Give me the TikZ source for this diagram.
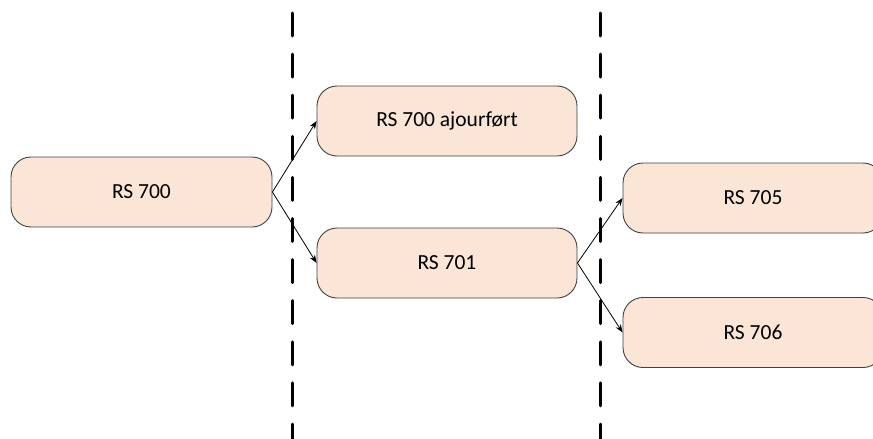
\documentclass[tikz,border=0pt]{standalone}
\usepackage{fontspec}
\setmainfont{Carlito}
\usetikzlibrary{arrows.meta}
\definecolor{boxfill}{HTML}{FBE5D6}
\definecolor{boxline}{HTML}{404040}
\tikzset{
  box/.style={draw=boxline, line width=0.9pt, fill=boxfill, rounded corners=20pt,
    minimum height=70pt, minimum width=260pt, inner sep=0pt, font=\fontsize{21.5}{24}\selectfont},
  conn/.style={line width=0.8pt, -{Stealth[length=8pt,width=6pt]}},
  divider/.style={line width=3pt, line cap=round, dash pattern=on 23pt off 18.1pt}
}
\begin{document}
\begin{tikzpicture}[x=1pt,y=-1pt]
\clip (0,0) rectangle (873,439);
\useasboundingbox (0,0) rectangle (873,439);
\coordinate (d1t) at (292,13);
\coordinate (d1b) at (292,445);
\coordinate (d2t) at (600,13);
\coordinate (d2b) at (600,445);
\draw[divider] (d1t) -- (d1b);
\draw[divider] (d2t) -- (d2b);
\node[box, minimum width=261pt] (a) at (141.5,192) {RS 700};
\node[box] (b) at (447,121) {RS 700 ajourført};
\node[box] (c) at (447,263) {RS 701};
\node[box] (d) at (753,198) {RS 705};
\node[box] (e) at (753,332.5) {RS 706};
\draw[conn] (a.east) -- (b.west);
\draw[conn] (a.east) -- (c.west);
\draw[conn] (c.east) -- (d.west);
\draw[conn] (c.east) -- (e.west);
\end{tikzpicture}
\end{document}
